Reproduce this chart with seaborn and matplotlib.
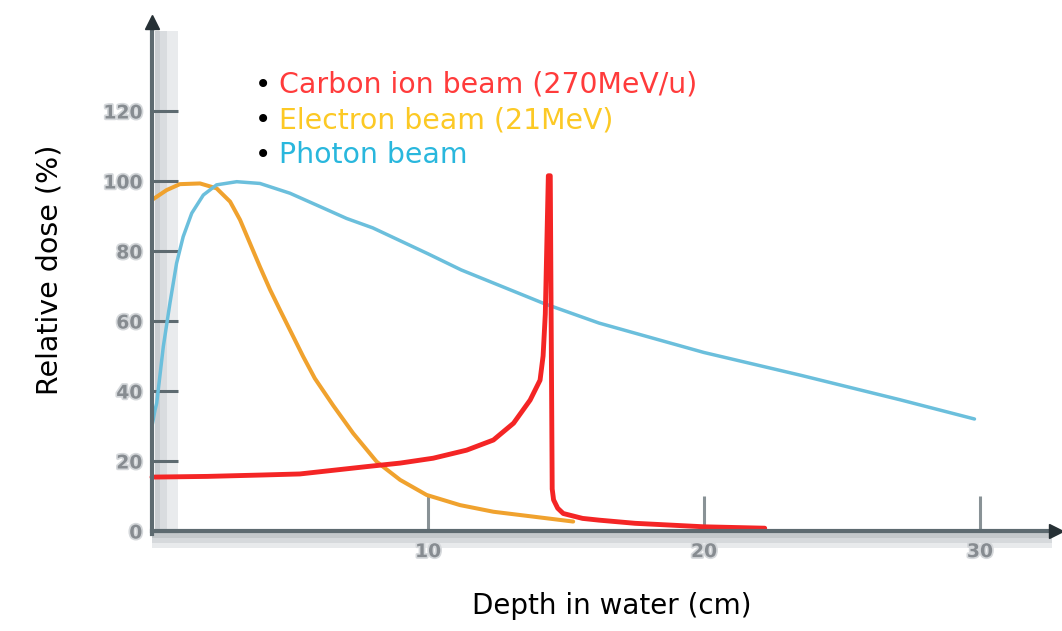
"""
Depth-dose curves: carbon ion, electron and photon beams in water
"""
import numpy as np
import matplotlib
matplotlib.use('Agg')
import matplotlib.pyplot as plt
import matplotlib.patheffects as pe
import seaborn as sns

# Carbon ion beam (270MeV/u)
depth_carbon = [0, 2, 4, 5.36, 7.78, 8.99, 10.19, 11.4, 12.37, 13.1, 13.7, 14.06, 14.17,
                14.25, 14.3, 14.36, 14.43, 14.5, 14.55, 14.7, 14.9, 15.6, 16.2, 17.5, 20, 22.2]
dose_carbon = [15.4, 15.6, 16, 16.3, 18.4, 19.4, 20.8, 23.1, 26, 30.8, 37.4, 43.1, 50,
               62, 80, 101.5, 101.5, 12, 8.9, 6.5, 5.0, 3.6, 3.1, 2.2, 1.2, 0.8]

# Electron beam (21MeV)
depth_electron = [0, 0.53, 1.01, 1.74, 2.34, 2.83, 3.19, 3.55, 3.91, 4.28, 4.64, 5.0, 5.48,
                  5.9, 6.57, 7.29, 8.14, 8.99, 9.95, 11.16, 12.37, 13.82, 15.26]
dose_electron = [94.6, 97.4, 99.1, 99.3, 97.9, 94.1, 88.9, 82.2, 75.5, 68.9, 63.1, 57.4, 49.8,
                 43.6, 35.8, 27.9, 19.8, 14.6, 10.3, 7.4, 5.5, 4.1, 2.7]

# Photon beam
depth_photon = [0, 0.11, 0.17, 0.41, 0.65, 0.89, 1.13, 1.44, 1.86, 2.34, 3.07, 3.91, 5.0,
                5.97, 7.05, 8.0, 10.0, 11.2, 14.2, 16.2, 20, 23.5, 27.1, 29.8]
dose_photon = [30, 34.6, 36.5, 52.7, 65.1, 76.5, 84.1, 90.8, 96, 98.9, 99.8, 99.3, 96.5,
               93.1, 89.3, 86.6, 79.2, 74.6, 65, 59.4, 51, 44.5, 37.5, 32]

y_ticks = [0, 20, 40, 60, 80, 100, 120]
x_ticks = [10, 20, 30]

legend_labels = ['Carbon ion beam (270MeV/u)', 'Electron beam (21MeV)', 'Photon beam']
legend_colors = ['#ff3b3b', '#fcc925', '#29b7dd']

sns.set_theme(style="white")
plt.rcParams['font.family'] = ['DejaVu Sans']

W, H = 1062, 631
fig = plt.figure(figsize=(W / 100, H / 100), dpi=100)
ax = fig.add_axes([0, 0, 1, 1])

# pixel mapping: x=0 at px 152, 27.6 px/cm ; y=0 at px 531, 3.5 px/%
ax.set_xlim(-152 / 27.6, (W - 152) / 27.6)
ax.set_ylim(-(H - 531) / 3.5, 531 / 3.5)

# soft shadows beside the axes
for x0, x1, c in [(0.1, 0.3, '#c9cdd1'), (0.3, 0.55, '#d9dcdf'), (0.55, 0.95, '#e9ebed')]:
    ax.fill_betweenx([0, 143], x0, x1, color=c, lw=0, zorder=0)
for y0, y1, c in [(-0.6, -2.0, '#c4c8cb'), (-2.0, -3.4, '#d6d9dc'), (-3.4, -4.8, '#e8eaec')]:
    ax.fill_between([0, 32.6], y0, y1, color=c, lw=0, zorder=0)

sns.lineplot(x=depth_electron, y=dose_electron, ax=ax, color='#f0a22e', linewidth=2.9,
             sort=False, estimator=None, zorder=3)
sns.lineplot(x=depth_photon, y=dose_photon, ax=ax, color='#6bbfdc', linewidth=2.5,
             sort=False, estimator=None, zorder=3)
sns.lineplot(x=depth_carbon, y=dose_carbon, ax=ax, color='#f42525', linewidth=3.5,
             sort=False, estimator=None, zorder=4)
for ln in ax.lines:
    ln.set_solid_joinstyle('round')

# axes with arrow heads
for side in ['top', 'right']:
    ax.spines[side].set_visible(False)
for side in ['left', 'bottom']:
    ax.spines[side].set_position(('data', 0))
    ax.spines[side].set_color('#5d6a70')
    ax.spines[side].set_linewidth(3)
    ax.spines[side].set_zorder(5)
ax.spines['left'].set_bounds(-0.8, 145)
ax.spines['bottom'].set_bounds(0, 32.7)
ax.plot([0], [145.5], marker='^', markersize=10, color='#263035', clip_on=False, zorder=6)
ax.plot([32.75], [0], marker='>', markersize=10, color='#263035', clip_on=False, zorder=6)

ax.set_yticks(y_ticks)
ax.set_yticklabels([str(v) for v in y_ticks])
ax.set_xticks(x_ticks)
ax.set_xticklabels([str(v) for v in x_ticks])
ax.tick_params(axis='y', direction='in', length=19, width=2.2, color='#5d6a70',
               pad=7, labelsize=13.5, labelcolor='#878c91', left=True)
ax.tick_params(axis='x', direction='in', length=25, width=2.2, color='#899296',
               pad=8, labelsize=13.5, labelcolor='#878c91', bottom=True)
for lab in ax.get_xticklabels() + ax.get_yticklabels():
    lab.set_fontweight('bold')
    lab.set_path_effects([pe.withStroke(linewidth=2.5, foreground='#d5d8db')])
ax.grid(False)

ax.set_xlabel('Depth in water (cm)', fontsize=20, color='black')
ax.set_ylabel('Relative dose (%)', fontsize=20.5, color='black')
ax.xaxis.set_label_coords(612 / W, (H - 592) / H)
ax.yaxis.set_label_coords(64 / W, (H - 270) / H)

# bullet legend
for i, (lab, col) in enumerate(zip(legend_labels, legend_colors)):
    yb = 1 - (93 + 35 * i) / H
    fig.text(263 / W, yb, '\u2022', fontsize=20, color='black', ha='center', va='baseline')
    fig.text(279 / W, yb, lab, fontsize=20.4, color=col, ha='left', va='baseline')

fig.savefig('out.png', dpi=100)
plt.close(fig)
